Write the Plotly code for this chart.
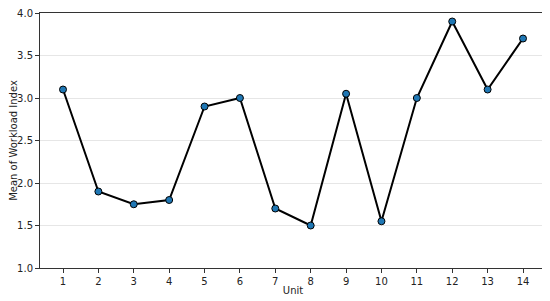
import plotly.graph_objects as go

units = [1, 2, 3, 4, 5, 6, 7, 8, 9, 10, 11, 12, 13, 14]
workload_mean = [3.1, 1.9, 1.75, 1.8, 2.9, 3.0, 1.7, 1.5, 3.05, 1.55, 3.0, 3.9, 3.1, 3.7]
y_ticks = [1.0, 1.5, 2.0, 2.5, 3.0, 3.5, 4.0]

fig = go.Figure()
fig.add_trace(go.Scatter(
    x=units, y=workload_mean, mode="lines+markers",
    line=dict(color="black", width=2),
    marker=dict(size=7, color="#1f77b4", line=dict(color="black", width=1)),
))

# page body adds an 8px margin, so the figure is a bit smaller than the window
axis_font = dict(family="DejaVu Sans", size=10, color="#222")
fig.update_layout(
    width=542, height=293,
    margin=dict(l=32, r=4, t=5, b=33, autoexpand=False),
    paper_bgcolor="white", plot_bgcolor="white",
    showlegend=False,
    font=dict(family="DejaVu Sans", size=10, color="#222"),
)
fig.update_xaxes(
    range=[0.35, 14.65], tickvals=units, ticktext=[str(u) for u in units],
    showgrid=False, zeroline=False, automargin=False, ticklabeloverflow="allow",
    showline=True, mirror=True, linecolor="#333", linewidth=1,
    ticks="outside", ticklen=4, tickcolor="#333", tickfont=axis_font,
    title=dict(text="Unit", font=axis_font, standoff=0),
)
fig.update_yaxes(
    range=[1.0, 4.0], tickvals=y_ticks, ticktext=[f"{v:.1f}" for v in y_ticks],
    showgrid=True, gridcolor="#e6e6e6", gridwidth=1, zeroline=False,
    automargin=False, ticklabeloverflow="allow",
    showline=True, mirror=True, linecolor="#333", linewidth=1,
    ticks="outside", ticklen=4, tickcolor="#333", tickfont=axis_font,
    title=dict(text="Mean of Workload Index", font=axis_font, standoff=2),
)

fig.write_html("out.html")
